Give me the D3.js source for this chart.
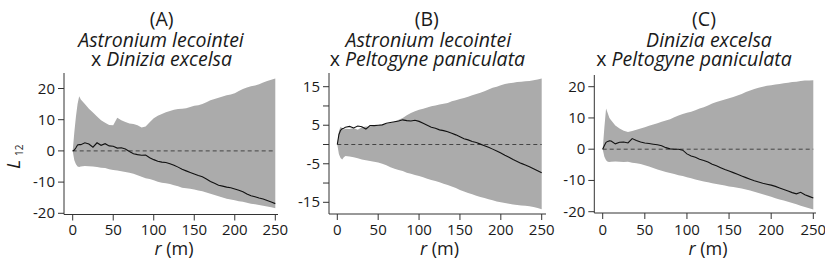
<!DOCTYPE html>
<html>
<head>
<meta charset="utf-8">
<script src="https://cdn.jsdelivr.net/npm/d3@7"></script>
<style>
  body { margin: 0; background: #fff; }
  text { font-family: "Open Sans", sans-serif; fill: #1a1a1a; }
</style>
</head>
<body>
<div id="chart"></div>
<script>
// distance r (m)
const rValues = [0, 2, 4, 6, 8, 10, 15, 20, 25, 30, 35, 40, 45, 50, 55, 60, 65, 70, 75, 80,
  85, 90, 95, 100, 105, 110, 115, 120, 125, 130, 135, 140, 145, 150, 155, 160, 165, 170, 175, 180,
  185, 190, 195, 200, 205, 210, 215, 220, 225, 230, 235, 240, 245, 250];

// (A) Astronium lecointei x Dinizia excelsa
const upperA = [0, 6, 11, 15, 17.5, 16.5, 15, 13.5, 12.3, 11, 9.8, 9, 8.3, 8.2, 10.6, 9.8, 9.3, 8.8, 8.6, 8.2,
  7.5, 7.8, 9.2, 10.5, 11.3, 11.8, 12.4, 12.8, 13.2, 13.4, 13.5, 13.7, 14.1, 14.5, 14.6, 15, 15.6, 16.2, 16.6, 17,
  17.4, 17.8, 18.1, 18.5, 19.2, 19.8, 20.3, 20.7, 21, 21.4, 21.9, 22.4, 22.8, 23.2];
const lowerA = [0, -3, -4.3, -5, -5.2, -5, -4.8, -4.9, -5, -5.2, -5.4, -5.5, -5.9, -6.1, -6.3, -6.5, -6.8, -7, -7.3, -7.8,
  -8.3, -8.8, -9, -9.4, -9.9, -10.2, -10.4, -10.6, -11, -11.3, -11.8, -12, -12.1, -12.4, -12.7, -12.9, -13.3, -13.7, -14.1, -14.5,
  -14.9, -15.3, -15.6, -15.8, -16.1, -16.3, -16.6, -16.9, -17.1, -17.3, -17.6, -17.8, -18.1, -18.4];
const observedA = [0, 0.3, 1, 1.9, 2, 2, 2.6, 2.2, 1.2, 2.6, 1.8, 2.3, 1.6, 1.5, 0.9, 1, 0.6, -0.2, -0.9, -1.2,
  -1.4, -1.3, -2.2, -2.8, -3.3, -3.6, -3.7, -4.1, -4.6, -5.2, -5.9, -6.4, -6.9, -7.4, -7.9, -8.3, -9, -9.8, -10.4, -11,
  -11.3, -11.6, -11.8, -12.2, -12.6, -13.1, -13.8, -14.4, -14.7, -15.1, -15.4, -15.9, -16.4, -16.9];

// (B) Astronium lecointei x Peltogyne paniculata
const upperB = [0, 3.5, 4.6, 4.2, 3.9, 4.1, 4, 4.3, 3.8, 4.5, 4.7, 4.6, 4.8, 5, 5.2, 5.4, 5.6, 5.9, 6.4, 6.9,
  7.6, 8.2, 8.6, 9, 9.3, 9.6, 9.9, 10.1, 10.4, 10.6, 10.8, 11.2, 11.5, 11.8, 12.1, 12.4, 12.8, 13.1, 13.4, 13.8,
  14.3, 14.7, 15, 15.4, 15.7, 15.9, 16, 16.2, 16.3, 16.4, 16.5, 16.7, 16.9, 17.1];
const lowerB = [0, -2.5, -3.5, -3.9, -3.3, -3, -3.1, -3.3, -3.6, -3.9, -4.1, -4.3, -4.5, -4.7, -5, -5.4, -5.9, -6.3, -6.6, -6.9,
  -7.3, -7.6, -7.9, -8.2, -8.5, -8.9, -9.2, -9.5, -9.8, -10.2, -10.5, -10.9, -11.3, -11.8, -12.2, -12.6, -12.9, -13.3, -13.6, -13.9,
  -14.2, -14.5, -14.8, -15, -15.2, -15.4, -15.6, -15.7, -15.8, -15.9, -16, -16.2, -16.5, -16.8];
const observedB = [0, 2.6, 3.7, 4.1, 4.2, 4.5, 4.7, 4.3, 4.8, 4.6, 4, 4.9, 4.9, 5, 5.1, 5.5, 5.7, 5.9, 6.1, 6.4,
  6.2, 6.1, 6.3, 6, 5.5, 5, 4.5, 4.2, 3.8, 3.6, 3.3, 2.9, 2.5, 2, 1.5, 1.2, 0.8, 0.5, 0.1, -0.3,
  -0.7, -1.2, -1.7, -2.2, -2.8, -3.3, -3.9, -4.4, -4.9, -5.3, -5.8, -6.3, -6.8, -7.3];

// (C) Dinizia excelsa x Peltogyne paniculata
const upperC = [0, 7, 13, 11.5, 10, 9.3, 7.6, 6.6, 5.9, 5.5, 5.8, 6.2, 6.6, 7, 7.5, 7.9, 8.3, 8.8, 9.2, 9.6,
  10.2, 10.8, 11.3, 11.7, 12, 12.5, 13, 13.4, 14, 14.6, 15.1, 15.5, 15.9, 16.3, 16.7, 17.2, 17.7, 18.3, 18.8, 19.3,
  19.7, 20, 20.3, 20.5, 20.7, 20.9, 21.1, 21.3, 21.5, 21.6, 21.8, 22, 22, 22.1];
const lowerC = [0, -2.4, -3.5, -4, -4.1, -4, -3.9, -4, -4.1, -4, -4.3, -4.5, -4.7, -5.1, -5.5, -6, -6.5, -6.9, -7.3, -7.6,
  -7.9, -8.3, -8.6, -9, -9.3, -9.7, -10, -10.3, -10.6, -10.9, -11.1, -11.4, -11.6, -11.9, -12.1, -12.3, -12.6, -12.9, -13.2, -13.6,
  -14, -14.4, -14.8, -15.2, -15.7, -16.1, -16.4, -16.8, -17.2, -17.6, -18.1, -18.5, -18.9, -19.3];
const observedC = [0, 1.2, 2.2, 2.5, 2.7, 2.6, 1.7, 2.2, 2.3, 2, 3.4, 2.8, 2.3, 2, 1.8, 1.6, 1.4, 1.1, 0.5, 0.1,
  0, 0, -0.3, -1.5, -2.2, -2.6, -3.2, -3.6, -4.1, -4.8, -5.3, -5.9, -6.5, -7, -7.5, -8, -8.6, -9.1, -9.6, -10.1,
  -10.5, -10.9, -11.2, -11.5, -11.9, -12.4, -12.9, -13.4, -13.9, -14.3, -13.8, -14.6, -15.1, -15.6];

const panelLetters = ["(A)", "(B)", "(C)"];
const speciesFirst = ["Astronium lecointei", "Astronium lecointei", "Dinizia excelsa"];
const speciesSecond = ["x Dinizia excelsa", "x Peltogyne paniculata", "x Peltogyne paniculata"];
const xTicks = [0, 50, 100, 150, 200, 250];
const yTicksAC = [-20, -10, 0, 10, 20];
const yTicksB = [-15, -10, -5, 0, 5, 10, 15];
const yLabelsB = [-15, -5, 5, 15];

const width = 825, height = 273;

// layout of each panel (pixels)
const panels = [
  {upper: upperA, lower: lowerA, obs: observedA, ticks: yTicksAC, labels: yTicksAC, yDom: [-20, 20],
   axisX: 64, x0: 72.7, x250: 275.3, xEnd: 278, y0: 213.3, y1: 88.5, top: 73, base: 214.5,
   titleX: [161.7, 161, 161.5]},
  {upper: upperB, lower: lowerB, obs: observedB, ticks: yTicksB, labels: yLabelsB, yDom: [-15, 15],
   axisX: 329, x0: 337.3, x250: 541.7, xEnd: 546, y0: 202.3, y1: 86.7, top: 73, base: 214,
   titleX: [426.7, 428.3, 427.4]},
  {upper: upperC, lower: lowerC, obs: observedC, ticks: yTicksAC, labels: yTicksAC, yDom: [-20, 20],
   axisX: 594.3, x0: 602.7, x250: 813.3, xEnd: 816, y0: 211.7, y1: 86.7, top: 75, base: 213,
   titleX: [704, 709, 694]}
];

const svg = d3.select("#chart").append("svg")
    .attr("width", width)
    .attr("height", height);

panels.forEach((p, i) => {
  const x = d3.scaleLinear().domain([0, 250]).range([p.x0, p.x250]);
  const y = d3.scaleLinear().domain(p.yDom).range([p.y0, p.y1]);
  const g = svg.append("g");

  const rows = rValues.map((r, k) => ({r: r, lo: p.lower[k], hi: p.upper[k], v: p.obs[k]}));

  // envelope
  g.append("path")
      .datum(rows)
      .attr("fill", "#ababab")
      .attr("d", d3.area().x(d => x(d.r)).y0(d => y(d.lo)).y1(d => y(d.hi)));

  // zero line
  g.append("line")
      .attr("x1", x(0)).attr("x2", x(250))
      .attr("y1", y(0)).attr("y2", y(0))
      .attr("stroke", "#444")
      .attr("stroke-width", 1)
      .attr("stroke-dasharray", "4,3");

  // observed L12
  g.append("path")
      .datum(rows)
      .attr("fill", "none")
      .attr("stroke", "#111")
      .attr("stroke-width", 1.1)
      .attr("d", d3.line().x(d => x(d.r)).y(d => y(d.v)));

  // axes
  g.append("line")
      .attr("x1", p.axisX).attr("x2", p.axisX)
      .attr("y1", p.top).attr("y2", p.base)
      .attr("stroke", "#333");
  g.append("line")
      .attr("x1", p.axisX).attr("x2", p.xEnd)
      .attr("y1", p.base).attr("y2", p.base)
      .attr("stroke", "#333");

  g.selectAll(".yt").data(p.ticks).enter().append("line")
      .attr("x1", p.axisX - 6).attr("x2", p.axisX)
      .attr("y1", d => y(d)).attr("y2", d => y(d))
      .attr("stroke", "#333");
  g.selectAll(".yl").data(p.labels).enter().append("text")
      .attr("x", p.axisX - 9)
      .attr("y", d => y(d) + 5)
      .attr("text-anchor", "end")
      .style("font-size", "15px")
      .text(d => d);

  g.selectAll(".xt").data(xTicks).enter().append("line")
      .attr("x1", d => x(d)).attr("x2", d => x(d))
      .attr("y1", p.base).attr("y2", p.base + 6)
      .attr("stroke", "#333");
  g.selectAll(".xl").data(xTicks).enter().append("text")
      .attr("x", d => x(d))
      .attr("y", 235)
      .attr("text-anchor", "middle")
      .style("font-size", "15px")
      .text(d => d);

  const xl = g.append("text")
      .attr("x", (p.x0 + p.x250) / 2)
      .attr("y", 255)
      .attr("text-anchor", "middle")
      .style("font-size", "18px");
  xl.append("tspan").style("font-style", "italic").text("r");
  xl.append("tspan").text(" (m)");

  // three-line title in one text block
  const parts = speciesSecond[i].split(" ");
  const title = g.append("text")
      .attr("text-anchor", "middle")
      .style("font-size", "19.5px");
  title.append("tspan")
      .attr("x", p.titleX[0]).attr("y", 26)
      .text(panelLetters[i]);
  title.append("tspan")
      .attr("x", p.titleX[1]).attr("y", 46.5)
      .style("font-style", "italic")
      .text(speciesFirst[i]);
  title.append("tspan")
      .attr("x", p.titleX[2]).attr("y", 65.5)
      .text(parts[0] + " ");
  title.append("tspan")
      .style("font-style", "italic")
      .text(parts.slice(1).join(" "));
});

// y axis title
const yt = svg.append("text")
    .attr("transform", "translate(20,169) rotate(-90)")
    .style("font-size", "19px");
yt.append("tspan").style("font-style", "italic").text("L");
yt.append("tspan").attr("dx", 4).attr("dy", 3).style("font-size", "10px").text("12");
</script>
</body>
</html>
